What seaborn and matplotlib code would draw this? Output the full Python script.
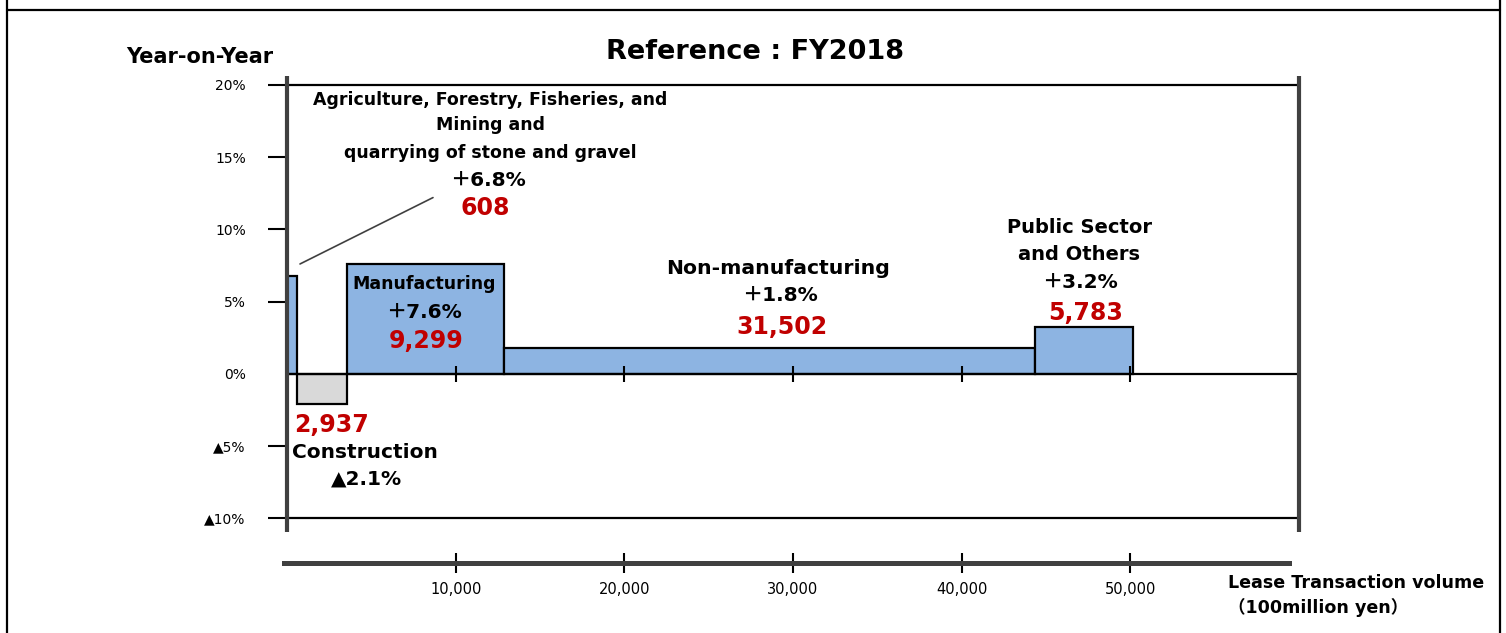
import numpy as np
import matplotlib
matplotlib.use("Agg")
import matplotlib.pyplot as plt
from matplotlib.lines import Line2D
import seaborn as sns

# Data
categories = ["Agriculture, Forestry, Fisheries, and Mining and quarrying of stone and gravel",
              "Construction", "Manufacturing", "Non-manufacturing", "Public Sector and Others"]
volume = [608, 2937, 9299, 31502, 5783]          # 100 million yen (bar widths)
yoy = [6.8, -2.1, 7.6, 1.8, 3.2]                 # year-on-year %
yoy_labels = ["＋6.8%", "▲2.1%", "＋7.6%", "＋1.8%", "＋3.2%"]
vol_labels = ["608", "2,937", "9,299", "31,502", "5,783"]
y_ticks = [-10, -5, 0, 5, 10, 15, 20]
y_ticklabels = ["▲10%", "▲5%", "0%", "5%", "10%", "15%", "20%"]
x_ticks = [10000, 20000, 30000, 40000, 50000]
x_ticklabels = ["10,000", "20,000", "30,000", "40,000", "50,000"]

sns.set_theme(style="white")
plt.rcParams["font.family"] = ["DejaVu Sans", "Noto Sans CJK JP"]
plt.rcParams["text.color"] = "black"
plt.rcParams["xtick.color"] = "black"
plt.rcParams["ytick.color"] = "black"
plt.rcParams["axes.labelcolor"] = "black"

W, H = 1506, 633
fig = plt.figure(figsize=(W / 100, H / 100), dpi=100)

def fx(px):
    return px / W

def fy(py):
    return 1 - py / H

ax = fig.add_axes([fx(287), fy(518), fx(1299) - fx(287), fy(85) - fy(518)])
ax.set_xlim(0, 60000)
ax.set_ylim(-10, 20)
ax.patch.set_alpha(0)

BLUE = "#8DB4E2"
GREY = "#D9D9D9"
RED = "#C00000"
DARK = "#404040"
colors = [BLUE, GREY, BLUE, BLUE, BLUE]

lefts = np.concatenate([[0], np.cumsum(volume)[:-1]])
ax.bar(lefts, yoy, width=volume, align="edge", color=colors,
       edgecolor="black", linewidth=1.6, zorder=3)

# zero line and small x ticks on it
ax.axhline(0, color="black", lw=1.6, zorder=4)
ax.vlines(x_ticks, -0.55, 0.5, color="black", lw=1.5, zorder=4)

# frame
for s in ["left", "right"]:
    ax.spines[s].set_visible(False)
for s in ["top", "bottom"]:
    ax.spines[s].set_color("black")
    ax.spines[s].set_linewidth(1.6)
for xa in [0, 1]:
    ax.plot([xa, xa], [-0.032, 1.021], transform=ax.transAxes, color=DARK,
            lw=3, clip_on=False, zorder=5, solid_capstyle="butt")

ax.set_xticks([])
ax.set_yticks(y_ticks)
ax.set_yticklabels(y_ticklabels, fontsize=10)
ax.tick_params(axis="y", direction="out", length=13.7, width=1.5,
               color="black", labelcolor="black", pad=16, left=True)
ax.yaxis.get_major_ticks()[y_ticks.index(0)].tick1line.set_visible(False)

# lower x axis
ax2 = fig.add_axes([fx(287), fy(563), fx(1299) - fx(287), 0.0001])
ax2.set_xlim(0, 60000)
ax2.patch.set_alpha(0)
for s in ["left", "right", "top"]:
    ax2.spines[s].set_visible(False)
ax2.spines["bottom"].set_color(DARK)
ax2.spines["bottom"].set_linewidth(3.6)
ax2.spines["bottom"].set_bounds(-180, 59400)
ax2.set_yticks([])
ax2.set_xticks(x_ticks)
ax2.set_xticklabels(x_ticklabels, fontsize=10.5)
ax2.tick_params(axis="x", direction="inout", length=14, width=1.5,
                color="black", labelcolor="black", pad=7, bottom=True)

# annotations
bold = dict(fontweight="bold", ha="center", va="center", color="black")
red = dict(fontweight="bold", ha="center", va="center", color=RED, fontsize=17)

ax.text(12040, 18.95, "Agriculture, Forestry, Fisheries, and", fontsize=12.5, **bold)
ax.text(12040, 17.2, "Mining and", fontsize=12.5, **bold)
ax.text(12040, 15.3, "quarrying of stone and gravel", fontsize=12.5, **bold)
ax.text(11900, 13.4, yoy_labels[0], fontsize=14.5, **bold)
ax.text(11740, 11.5, vol_labels[0], **red)
ax.plot([771, 8656], [7.6, 12.2], color=DARK, lw=1.2, zorder=4)

ax.text(2609, -3.55, vol_labels[1], **red)
ax.text(4625, -5.44, "Construction", fontsize=14.5, **bold)
ax.text(4684, -7.32, yoy_labels[1], fontsize=14.5, **bold)

ax.text(8122, 6.2, "Manufacturing", fontsize=12.5, zorder=6, **bold)
ax.text(8122, 4.25, yoy_labels[2], fontsize=14.5, zorder=6, **bold)
ax.text(8240, 2.23, vol_labels[2], zorder=6, **red)

ax.text(29110, 7.32, "Non-manufacturing", fontsize=14.7, **bold)
ax.text(29230, 5.44, yoy_labels[3], fontsize=14.5, **bold)
ax.text(29348, 3.2, vol_labels[3], **red)

ax.text(46960, 10.1, "Public Sector", fontsize=14, **bold)
ax.text(46960, 8.29, "and Others", fontsize=14, **bold)
ax.text(47020, 6.34, yoy_labels[4], fontsize=14.5, **bold)
ax.text(47320, 4.18, vol_labels[4], **red)

fig.text(fx(755), fy(52), "Reference : FY2018", fontsize=19.5, fontweight="bold",
         ha="center", va="center")
fig.text(fx(200), fy(57), "Year-on-Year", fontsize=15, fontweight="bold",
         ha="center", va="center")
fig.text(fx(1356), fy(583), "Lease Transaction volume", fontsize=12.6, fontweight="bold",
         ha="center", va="center")
fig.text(fx(1318), fy(607), "（100million yen）", fontsize=12.6, fontweight="bold",
         ha="center", va="center")

# outer border
for line in [([fx(7), fx(7)], [0, 1]), ([fx(1500), fx(1500)], [0, 1]),
             ([fx(7), fx(1500)], [fy(10), fy(10)])]:
    fig.add_artist(Line2D(line[0], line[1], transform=fig.transFigure,
                          color="black", lw=1.6))

fig.savefig("out.png", dpi=100)
